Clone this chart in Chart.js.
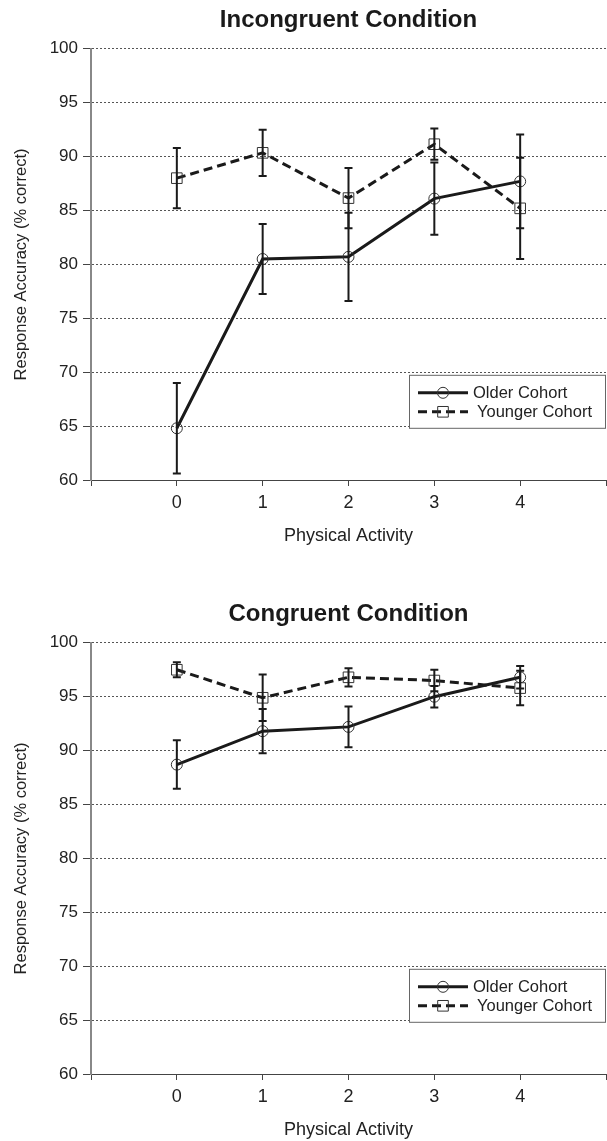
<!DOCTYPE html>
<html>
<head>
<meta charset="utf-8">
<script src="https://cdn.jsdelivr.net/npm/chart.js@4.4.1/dist/chart.umd.min.js"></script>
<style>
  body { margin: 0; background: #fff; width: 607px; height: 1141px; position: relative; overflow: hidden; }
  .panel { position: absolute; left: 0; width: 607px; height: 547px; }
</style>
</head>
<body>
<div class="panel" style="top:0"><canvas id="incongruentChart" width="607" height="547"></canvas></div>
<div class="panel" style="top:594px"><canvas id="congruentChart" width="607" height="547"></canvas></div>
<script>
// values
const activityLevels = [0, 1, 2, 3, 4];
const xTickLabels = ['0', '1', '2', '3', '4'];
const seriesNames = ['Older Cohort', 'Younger Cohort'];

const incOlder = [64.8, 80.5, 80.7, 86.1, 87.7];
const incOlderErr = [4.2, 3.25, 4.1, 3.35, 4.35];
const incYounger = [88.0, 90.35, 86.15, 91.15, 85.2];
const incYoungerErr = [2.8, 2.15, 2.8, 1.45, 4.7];

const conOlder = [88.7, 91.8, 92.2, 95.0, 96.8];
const conOlderErr = [2.25, 2.05, 1.9, 1.0, 1.05];
const conYounger = [97.5, 94.9, 96.8, 96.5, 95.8];
const conYoungerErr = [0.7, 2.15, 0.85, 1.0, 1.6];

Chart.defaults.font.family = 'Arial, "Liberation Sans", sans-serif';
Chart.defaults.color = '#222';

// vertical error bars with caps
const errorBars = {
  id: 'errorBars',
  afterDatasetsDraw(chart) {
    const ctx = chart.ctx;
    const y = chart.scales.y, x = chart.scales.x;
    ctx.save();
    ctx.strokeStyle = '#1a1a1a';
    ctx.lineWidth = 2;
    chart.data.datasets.forEach(ds => {
      ds.data.forEach((p, i) => {
        const e = ds.err[i];
        const px = x.getPixelForValue(p.x);
        const top = y.getPixelForValue(p.y + e);
        const bot = y.getPixelForValue(p.y - e);
        ctx.beginPath();
        ctx.moveTo(px, top); ctx.lineTo(px, bot);
        ctx.moveTo(px - 4, top); ctx.lineTo(px + 4, top);
        ctx.moveTo(px - 4, bot); ctx.lineTo(px + 4, bot);
        ctx.stroke();
      });
    });
    ctx.restore();
  }
};

// boxed legend inside the plot, lower right
const boxLegend = {
  id: 'boxLegend',
  afterDraw(chart) {
    const ctx = chart.ctx;
    const area = chart.chartArea;
    const bx = 409, by = area.top + 326, bw = area.right - 409, bh = 54;
    ctx.save();
    ctx.fillStyle = '#fff';
    ctx.fillRect(bx, by, bw, bh);
    ctx.strokeStyle = '#666';
    ctx.lineWidth = 1;
    ctx.strokeRect(bx + 0.5, by + 0.5, bw - 1, bh - 1);
    chart.data.datasets.forEach((ds, i) => {
      const ly = by + 18 + i * 19;
      ctx.strokeStyle = ds.borderColor;
      ctx.lineWidth = 3;
      ctx.setLineDash(ds.borderDash || []);
      ctx.beginPath();
      ctx.moveTo(418, ly); ctx.lineTo(468, ly);
      ctx.stroke();
      ctx.setLineDash([]);
      ctx.lineWidth = 1;
      ctx.strokeStyle = '#333';
      ctx.fillStyle = 'rgba(0,0,0,0)';
      Chart.helpers.drawPoint(ctx, {
        pointStyle: ds.pointStyle, radius: ds.pointRadius, borderWidth: 1
      }, 443, ly);
      ctx.fillStyle = '#222';
      ctx.font = '16.5px Arial, "Liberation Sans", sans-serif';
      ctx.textBaseline = 'middle';
      ctx.fillText(ds.label, i === 0 ? 473 : 477, ly + 1);
    });
    ctx.restore();
  }
};

function makeChart(id, title, older, olderErr, younger, youngerErr) {
  const pts = vals => activityLevels.map((a, i) => ({ x: a, y: vals[i] }));
  return new Chart(document.getElementById(id), {
    type: 'line',
    data: {
      datasets: [
        {
          label: seriesNames[0],
          data: pts(older),
          err: olderErr,
          borderColor: '#1a1a1a',
          borderWidth: 3,
          pointStyle: 'circle',
          pointRadius: 5.5,
          pointBorderWidth: 1,
          pointBorderColor: '#333',
          pointBackgroundColor: 'rgba(0,0,0,0)',
          tension: 0
        },
        {
          label: seriesNames[1],
          data: pts(younger),
          err: youngerErr,
          borderColor: '#1a1a1a',
          borderWidth: 3,
          borderDash: [9, 5],
          pointStyle: 'rect',
          pointRadius: 7.5,
          pointBorderWidth: 1,
          pointBorderColor: '#333',
          pointBackgroundColor: 'rgba(0,0,0,0)',
          tension: 0
        }
      ]
    },
    options: {
      responsive: false,
      animation: false,
      layout: { autoPadding: false, padding: { right: 1 } },
      plugins: {
        legend: { display: false },
        tooltip: { enabled: false },
        title: {
          display: true,
          fullSize: false,
          text: title,
          color: '#1a1a1a',
          font: { size: 24, weight: 'bold' },
          padding: { top: 6, bottom: 14 }
        }
      },
      scales: {
        x: {
          type: 'linear',
          min: -1,
          max: 5,
          afterFit: s => { s.height = 67; s.paddingLeft = 0; s.paddingRight = 0; },
          afterBuildTicks: s => { s.ticks = [-1, 0, 1, 2, 3, 4, 5].map(v => ({ value: v })); },
          ticks: {
            padding: 6,
            font: { size: 18 },
            callback: v => (v >= 0 && v <= 4 ? xTickLabels[v] : '')
          },
          grid: { drawOnChartArea: false, drawTicks: true, tickLength: 6, tickColor: '#444' },
          border: { color: '#444', width: 1 },
          title: { display: true, text: 'Physical Activity', font: { size: 18 }, padding: { top: 0, bottom: 0 } }
        },
        y: {
          min: 60,
          max: 100,
          afterFit: s => { s.width = 91; },
          ticks: { stepSize: 5, padding: 5, font: { size: 17 } },
          grid: { color: '#555', lineWidth: 1, tickLength: 8, tickColor: '#444' },
          border: { color: '#888', width: 2, dash: [2, 2] },
          title: { display: true, text: 'Response Accuracy (% correct)', font: { size: 16.5 }, padding: { top: 12, bottom: 0 } }
        }
      }
    },
    plugins: [errorBars, boxLegend]
  });
}

makeChart('incongruentChart', 'Incongruent Condition', incOlder, incOlderErr, incYounger, incYoungerErr);
makeChart('congruentChart', 'Congruent Condition', conOlder, conOlderErr, conYounger, conYoungerErr);
</script>
</body>
</html>
